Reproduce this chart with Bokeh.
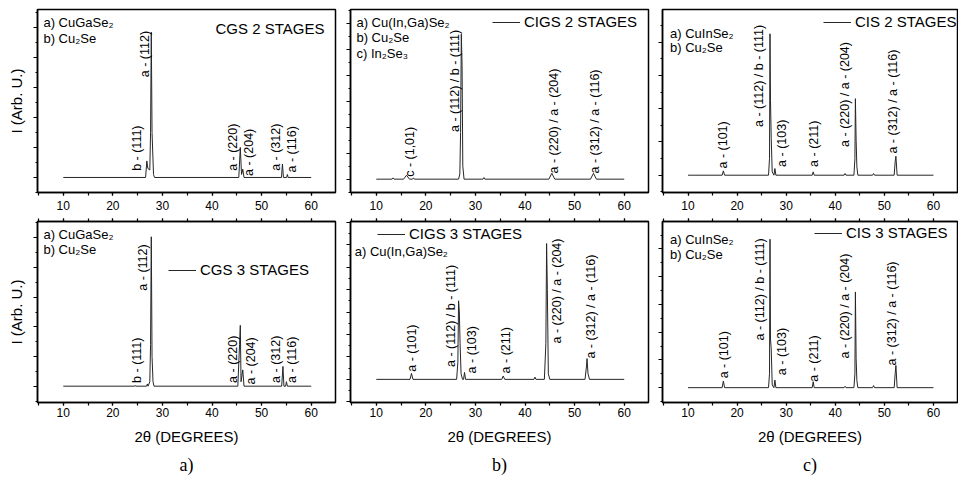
import math
from bokeh.plotting import figure
from bokeh.models import (Range1d, SingleIntervalTicker, LinearAxis, Legend,
                          LegendItem, Title, ColumnDataSource)
from bokeh.layouts import row, column
from bokeh.embed import file_html
from bokeh.resources import INLINE
from bokeh.core.properties import value

FONT = "Liberation Sans"
SERIF = "Liberation Serif"

# ---------------- data (2theta in degrees, intensity in arbitrary units) -------------
# CGS 2 stages
cgs2_x = [10, 26.6, 26.85, 27.05, 27.45, 27.6, 27.75, 27.9, 28.2, 28.4, 45.4, 45.7, 45.95,
          46.2, 46.45, 54.0, 54.2, 54.4, 55.05, 55.2, 55.35, 60]
cgs2_y = [0, 0, 1.1, 0.6, 0.5, 3.0, 9.67, 3.0, 0.2, 0, 0, 2.0, 0.2,
          0.55, 0, 0, 0.9, 0, 0, 0.2, 0, 0]
# CIGS 2 stages
cigs2_x = [10, 13.2, 13.4, 13.6, 15.5, 16.1, 16.7, 17.3, 17.5, 17.7, 26.6, 26.85, 27.0,
           27.15, 27.3, 27.45, 27.7, 31.5, 31.7, 31.9, 44.8, 45.4, 46.0, 53.2, 53.8, 54.4, 60]
cigs2_y = [0, 0, 0.1, 0, 0, 0.3, 0, 0, 0.1, 0, 0, 0.4, 3.6,
           11.2, 8.8, 1.0, 0, 0, 0.12, 0, 0, 0.45, 0, 0, 0.45, 0, 0]
# CIS 2 stages
cis2_x = [10, 16.95, 17.2, 17.45, 26.4, 26.6, 26.7, 26.8, 26.95, 27.15, 27.5, 27.7, 27.9,
          35.3, 35.5, 35.7, 41.8, 42.0, 42.2, 43.8, 44.0, 44.1, 44.25, 44.4, 44.6,
          47.6, 47.8, 48.0, 52.0, 52.2, 52.35, 52.6, 60]
cis2_y = [0, 0, 0.26, 0, 0, 1.0, 8.5, 4.5, 2.2, 0.2, 0, 0.4, 0,
          0, 0.2, 0, 0, 0.1, 0, 0, 1.0, 4.6, 2.1, 0.5, 0,
          0, 0.1, 0, 0, 0.8, 1.14, 0, 0]
# CGS 3 stages
cgs3_x = [10, 24.4, 24.5, 24.6, 26.8, 26.95, 27.1, 27.45, 27.6, 27.75, 27.9, 28.1, 28.3,
          45.2, 45.55, 45.7, 45.85, 46.2, 46.45, 54.05, 54.3, 54.5, 54.85, 55.0, 55.2, 60]
cgs3_y = [0, 0, 0.05, 0, 0, 0.15, 0, 0.3, 2.8, 10.07, 2.0, 0.3, 0,
          0, 2.8, 4.1, 0.3, 1.1, 0, 0, 1.33, 0, 0, 0.3, 0, 0]
# CIGS 3 stages
cigs3_x = [10, 16.8, 17.1, 17.4, 26.2, 26.45, 26.6, 26.75, 26.9, 27.1, 27.4, 27.6, 27.8, 28.0,
           35.3, 35.6, 35.9, 41.8, 42.0, 42.2, 43.9, 44.2, 44.35, 44.5, 44.7, 45.0,
           52.1, 52.4, 52.5, 52.7, 53.0, 60]
cigs3_y = [0, 0, 0.53, 0, 0, 1.5, 7.0, 6.0, 3.2, 0.5, 0, 0, 0.62, 0,
           0, 0.3, 0, 0, 0.2, 0, 0, 3.2, 12.1, 8.0, 0.5, 0,
           0, 1.2, 1.85, 0.5, 0, 0]
# CIS 3 stages
cis3_x = [10, 16.95, 17.2, 17.45, 26.4, 26.6, 26.7, 26.8, 26.95, 27.15, 27.5, 27.7, 27.9,
          35.3, 35.5, 35.7, 41.8, 42.0, 42.2, 43.8, 44.0, 44.1, 44.25, 44.4, 44.6,
          47.6, 47.8, 48.0, 52.0, 52.2, 52.35, 52.6, 60]
cis3_y = [0, 0, 0.48, 0, 0, 1.0, 10.7, 3.5, 2.8, 0.2, 0, 0.55, 0,
          0, 0.43, 0, 0, 0.1, 0, 0, 1.0, 6.9, 2.1, 0.5, 0,
          0, 0.15, 0, 0, 1.0, 1.6, 0, 0]

# ---------------- annotations -------------
cgs2_peaks = ["b - (111)", "a - (112)", "a - (220)", "a - (204)", "a - (312)", "a - (116)"]
cgs2_peak_x = [24.9, 26.5, 44.2, 47.4, 53.0, 56.2]
cgs2_peak_y = [0.44, 6.67, 0.44, 0.1, 0.44, 0.33]
cgs2_phases = ["a) CuGaSe₂", "b) Cu₂Se"]
cgs2_phase_y = [10.3, 9.24]

cigs2_peaks = ["c - (1,01)", "a - (112) / b - (111)", "a - (220) / a - (204)", "a - (312) / a - (116)"]
cigs2_peak_x = [16.7, 25.9, 45.8, 54.1]
cigs2_peak_y = [0.18, 3.64, 0.44, 0.44]
cigs2_phases = ["a) Cu(In,Ga)Se₂", "b) Cu₂Se", "c) In₂Se₃"]
cigs2_phase_y = [12.1, 10.9, 9.67]

cis_peaks = ["a - (101)", "a - (112) / b - (111)", "a - (103)", "a - (211)",
             "a - (220) / a - (204)", "a - (312) / a - (116)"]
cis2_peak_x = [17.2, 24.5, 29.1, 35.7, 42.0, 51.7]
cis2_peak_y = [0.4, 2.9, 0.5, 0.5, 1.7, 1.3]
cis_phases = ["a) CuInSe₂", "b) Cu₂Se"]
cis2_phase_y = [8.5, 7.7]

cgs3_peak_x = [24.8, 26.1, 44.2, 47.9, 53.0, 56.2]
cgs3_peak_y = [0.22, 6.44, 0.22, 0.11, 0.22, 0.22]
cgs3_phase_y = [10.2, 9.2]

cigs3_peak_x = [17.3, 25.0, 29.4, 36.1, 46.4, 53.3]
cigs3_peak_y = [0.68, 1.1, 0.53, 0.53, 3.2, 1.85]
cigs3_phases = ["a) Cu(In,Ga)Se₂"]
cigs3_phase_y = [11.4]

cis3_peak_x = [17.3, 24.7, 29.1, 35.7, 42.0, 51.5]
cis3_peak_y = [0.67, 3.4, 0.9, 0.43, 2.1, 1.6]
cis3_phase_y = [10.7, 9.6]

X_RANGE = (4.8, 64.9)
X_TITLE = "2θ (DEGREES)"
Y_TITLE = "I (Arb. U.)"


def make_panel(xs, ys, yr, width, height, mbl, mbr, mbt, mbb,
               phases, phase_x, phase_y, peaks, peak_x, peak_y,
               stage, stage_loc=None, stage_xy=None, ylabel=None,
               bottom=False, caption=None):
    p = figure(width=width, height=height, x_range=Range1d(*X_RANGE),
               y_range=Range1d(*yr), output_backend="svg", toolbar_location=None,
               title=None, min_border_left=mbl, min_border_right=mbr,
               min_border_top=mbt, min_border_bottom=mbb,
               background_fill_color="white", border_fill_color="white")
    p.xgrid.visible = False
    p.ygrid.visible = False
    p.outline_line_color = "black"
    p.outline_line_width = 1.5

    r = p.line(xs, ys, line_color="#262626", line_width=1)

    xa = p.xaxis[0]
    xa.ticker = SingleIntervalTicker(interval=10, num_minor_ticks=2)
    xa.major_tick_in = 0
    xa.major_tick_out = 3
    xa.minor_tick_in = 0
    xa.minor_tick_out = 3
    xa.axis_line_width = 1.5
    xa.major_tick_line_width = 1.2
    xa.minor_tick_line_width = 1.2
    xa.major_label_text_font = FONT
    xa.major_label_text_font_size = "12px"
    xa.major_label_text_color = "black"
    xa.major_label_standoff = 5
    if bottom:
        xa.major_label_standoff = 2
        xa.axis_label = X_TITLE
        xa.axis_label_text_font = FONT
        xa.axis_label_text_font_size = "15px"
        xa.axis_label_text_font_style = "normal"
        xa.axis_label_text_color = "black"
        xa.axis_label_standoff = 8
        ta = LinearAxis(ticker=SingleIntervalTicker(interval=10, num_minor_ticks=2),
                        major_label_text_font_size="1px", major_label_text_color=None,
                        major_label_standoff=0,
                        major_tick_in=0, major_tick_out=3, minor_tick_in=0,
                        minor_tick_out=3, axis_line_width=1.5,
                        major_tick_line_width=1.2, minor_tick_line_width=1.2)
        p.add_layout(ta, "above")

    ya = p.yaxis[0]
    ya.ticker = SingleIntervalTicker(interval=2, num_minor_ticks=2)
    ya.major_tick_in = 0
    ya.major_tick_out = 4
    ya.minor_tick_in = 0
    ya.minor_tick_out = 2
    ya.axis_line_width = 1.5
    ya.major_tick_line_width = 1.2
    ya.minor_tick_line_width = 1.2
    ya.major_label_text_font_size = "1px"
    ya.major_label_text_color = None
    ya.major_label_standoff = 0
    if ylabel:
        ya.axis_label = ylabel
        ya.axis_label_text_font = FONT
        ya.axis_label_text_font_size = "15px"
        ya.axis_label_text_font_style = "normal"
        ya.axis_label_text_color = "black"
        ya.axis_label_standoff = 9

    # phase identification text
    psrc = ColumnDataSource(dict(x=[phase_x] * len(phases), y=phase_y, t=phases))
    p.text(x="x", y="y", text="t", source=psrc, text_font=value(FONT),
           text_font_size="13px", text_align="left", text_baseline="middle",
           text_color="black")

    # peak labels (rotated)
    ksrc = ColumnDataSource(dict(x=peak_x, y=peak_y, t=peaks))
    p.text(x="x", y="y", text="t", source=ksrc, angle=math.pi / 2,
           text_font=value(FONT), text_font_size="12.5px", text_align="left",
           text_baseline="middle", text_color="black")

    if stage_loc is not None:
        leg = Legend(items=[LegendItem(label=stage, renderers=[r])],
                     location=stage_loc, glyph_width=28, glyph_height=14,
                     label_height=14, label_standoff=4, padding=0, margin=0,
                     border_line_color=None, background_fill_alpha=0,
                     label_text_font=FONT, label_text_font_size="15px",
                     label_text_color="black")
        p.add_layout(leg)
    elif stage_xy is not None:
        ssrc = ColumnDataSource(dict(x=[stage_xy[0]], y=[stage_xy[1]], t=[stage]))
        p.text(x="x", y="y", text="t", source=ssrc, text_font=value(FONT),
               text_font_size="15px", text_align="left", text_baseline="middle",
               text_color="black")

    if caption:
        p.add_layout(Title(text=caption, align="center", text_font=SERIF,
                           text_font_size="18px", text_font_style="normal",
                           text_color="black", standoff=10), "below")
    return p


TOP_H, BOT_H = 217, 265
A_W, B_W, C_W = 340, 311, 307

tl = make_panel(cgs2_x, cgs2_y, (-1.0, 11.18), A_W, TOP_H, 37, 5, 9, 25,
                cgs2_phases, 6.0, cgs2_phase_y, cgs2_peaks, cgs2_peak_x, cgs2_peak_y,
                "CGS 2 STAGES", stage_xy=(40.7, 9.9), ylabel=Y_TITLE)
tm = make_panel(cigs2_x, cigs2_y, (-1.03, 13.1), B_W, TOP_H, 10, 3, 9, 25,
                cigs2_phases, 6.0, cigs2_phase_y, cigs2_peaks, cigs2_peak_x, cigs2_peak_y,
                "CIGS 2 STAGES", stage_loc=(142, 162))
tr = make_panel(cis2_x, cis2_y, (-1.04, 9.96), C_W, TOP_H, 11, 1, 9, 25,
                cis_phases, 6.33, cis2_phase_y, cis_peaks, cis2_peak_x, cis2_peak_y,
                "CIS 2 STAGES", stage_loc=(161, 162))

bl = make_panel(cgs3_x, cgs3_y, (-1.1, 11.1), A_W, BOT_H, 37, 5, 4, 80,
                cgs2_phases, 6.0, cgs3_phase_y, cgs2_peaks, cgs3_peak_x, cgs3_peak_y,
                "CGS 3 STAGES", stage_loc=(131, 124), ylabel=Y_TITLE, bottom=True,
                caption="a)")
bm = make_panel(cigs3_x, cigs3_y, (-2.06, 14.06), B_W, BOT_H, 10, 3, 4, 80,
                cigs3_phases, 5.65, cigs3_phase_y, cis_peaks, cigs3_peak_x, cigs3_peak_y,
                "CIGS 3 STAGES", stage_loc=(27, 160), bottom=True, caption="b)")
br = make_panel(cis3_x, cis3_y, (-1.07, 11.98), C_W, BOT_H, 11, 1, 4, 80,
                cis_phases, 6.33, cis3_phase_y, cis_peaks, cis3_peak_x, cis3_peak_y,
                "CIS 3 STAGES", stage_loc=(152, 161), bottom=True, caption="c)")

layout = column(row(tl, tm, tr), row(bl, bm, br))
open("out.html", "w").write(file_html(layout, INLINE))
